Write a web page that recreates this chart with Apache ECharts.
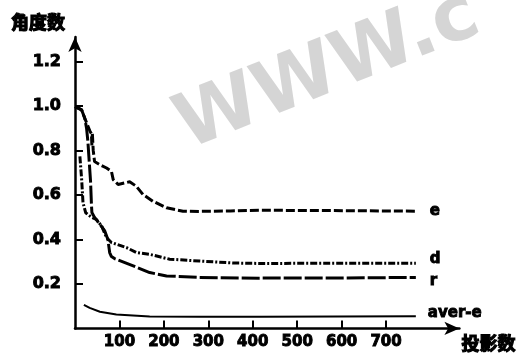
<!DOCTYPE html>
<html>
<head>
<meta charset="utf-8">
<script src="https://cdn.jsdelivr.net/npm/echarts@6/dist/echarts.min.js"></script>
<style>
  html, body { margin: 0; padding: 0; background: #fff; }
  #chart { width: 519px; height: 353px; }
</style>
</head>
<body>
<div id="chart"></div>
<script>
// values: [projections, angle]
const seriesE = [[0, 0.997], [15, 0.982], [22, 0.945], [29, 0.91], [34, 0.885], [37, 0.875], [38, 0.82], [39, 0.88], [41, 0.80],
  [44, 0.75], [56, 0.736], [71, 0.721], [82, 0.706], [86, 0.669], [97, 0.647], [112, 0.654], [123, 0.659], [138, 0.639],
  [153, 0.602], [175, 0.572], [206, 0.542], [243, 0.527], [280, 0.526], [350, 0.528], [415, 0.531], [550, 0.530], [767, 0.527]];
const seriesD = [[11, 0.773], [15, 0.669], [18, 0.565], [24, 0.52], [37, 0.50], [48, 0.49], [60, 0.46], [71, 0.408], [82, 0.386],
  [116, 0.363], [138, 0.341], [168, 0.333], [213, 0.311], [280, 0.303], [355, 0.294], [415, 0.292], [600, 0.293], [767, 0.293]];
const seriesR = [[0, 0.997], [15, 0.982], [22, 0.945], [26, 0.90], [29, 0.84], [32, 0.75], [35, 0.661], [37, 0.557], [38, 0.521],
  [44, 0.499], [56, 0.468], [67, 0.438], [74, 0.40], [78, 0.341], [82, 0.323], [89, 0.314], [131, 0.281], [168, 0.251],
  [206, 0.236], [280, 0.229], [415, 0.226], [600, 0.227], [767, 0.229]];
const seriesAverE = [[20, 0.106], [33, 0.092], [56, 0.075], [93, 0.062], [168, 0.054], [280, 0.052], [415, 0.052], [767, 0.055]];

const xTicks = [100, 200, 300, 400, 500, 600, 700];
const yTicks = [0.2, 0.4, 0.6, 0.8, 1.0, 1.2];

const chart = echarts.init(document.getElementById('chart'));

// heavy black lettering, thickened with a thin outline
const labelFont = {
  color: '#000', fontWeight: 'bold', fontSize: 16, fontFamily: 'DejaVu Sans',
  textBorderColor: '#000', textBorderWidth: 0.9
};
const nameFont = {
  color: '#000', fontWeight: 'bold', fontSize: 18, fontFamily: 'Noto Sans CJK SC',
  textBorderColor: '#000', textBorderWidth: 1.2
};

function line(name, data, width, dash, offset) {
  return {
    name: name,
    type: 'line',
    data: data,
    showSymbol: false,
    symbol: 'none',
    lineStyle: { color: '#000', width: width, type: dash },
    endLabel: { show: true, formatter: name, offset: offset, ...labelFont, fontSize: 15 },
    animation: false
  };
}

chart.setOption({
  backgroundColor: '#fff',
  animation: false,
  grid: { left: 75, right: 59, top: 37, bottom: 24 },
  graphic: [{
    type: 'text',
    z: -10,
    x: 328,
    y: 72,
    rotation: 0.38,
    style: {
      text: 'WWW.c',
      font: 'bold 76px "DejaVu Sans"',
      fill: 'rgba(185,185,185,0.6)',
      align: 'center',
      verticalAlign: 'middle',
      shadowBlur: 6,
      shadowColor: 'rgba(110,110,110,0.5)',
      shadowOffsetX: 2,
      shadowOffsetY: 3
    }
  }],
  xAxis: {
    type: 'value',
    min: 0,
    max: 865,
    name: '投影数',
    nameLocation: 'end',
    nameGap: 2,
    nameTextStyle: { ...nameFont, verticalAlign: 'top', padding: [6, 0, 0, 0] },
    axisLine: { lineStyle: { color: '#000', width: 2.5 }, symbol: ['none', 'arrow'], symbolSize: [10, 15] },
    axisTick: { show: true, inside: true, length: 8, lineStyle: { width: 2, color: '#000' }, customValues: xTicks },
    axisLabel: { customValues: xTicks, margin: 6, ...labelFont, fontSize: 15 },
    splitLine: { show: false }
  },
  yAxis: {
    type: 'value',
    min: 0,
    max: 1.31,
    name: '角度数',
    nameLocation: 'end',
    nameGap: 6,
    nameTextStyle: { ...nameFont, align: 'right', padding: [0, 10, 0, 0] },
    axisLine: { show: true, lineStyle: { color: '#000', width: 2.5 }, symbol: ['none', 'arrow'], symbolSize: [10, 15] },
    axisTick: { show: true, inside: true, length: 8, lineStyle: { width: 2, color: '#000' }, customValues: yTicks },
    axisLabel: { customValues: yTicks, margin: 14, formatter: v => v.toFixed(1), ...labelFont },
    splitLine: { show: false }
  },
  series: [
    line('e', seriesE, 3, [9, 3], [6, 0]),
    line('d', seriesD, 3, [7, 2, 2, 2], [6, -4]),
    line('r', seriesR, 3, [18, 3], [6, 4]),
    line('aver-e', seriesAverE, 2, 'solid', [4, -3])
  ]
});
</script>
</body>
</html>
